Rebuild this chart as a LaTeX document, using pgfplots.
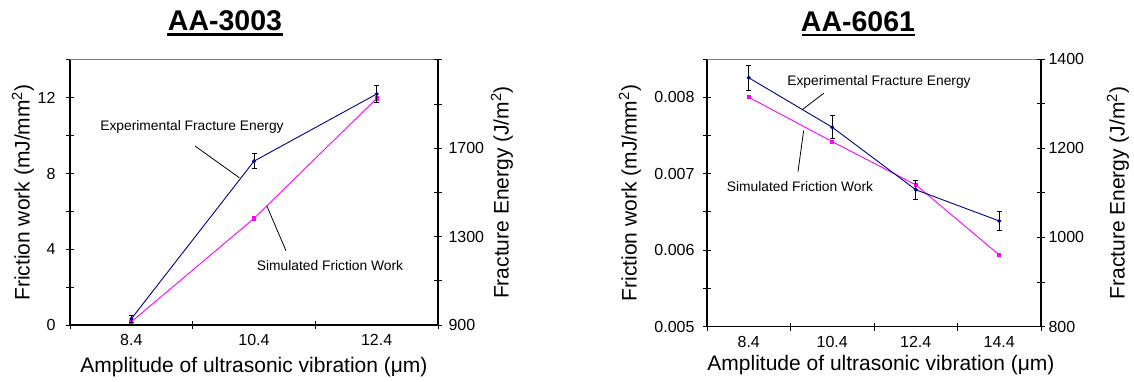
\documentclass[border=0pt]{standalone}
\usepackage{fontspec}
\setmainfont{Liberation Sans}
\usepackage{pgfplots}
\pgfplotsset{compat=1.18}
\definecolor{navyb}{RGB}{0,0,128}
\definecolor{pinkm}{RGB}{255,0,255}
\pgfplotsset{
  common/.style={
    scale only axis,
    anchor=south west,
    /pgf/number format/assume math mode=true,
    /pgf/number format/set thousands separator={},
    tick align=center,
    major tick length=8pt,
    minor tick length=8pt,
    axis line style={line width=1.2pt,black},
    every tick/.style={line width=1.0pt,black},
    every minor tick/.style={line width=1.0pt,black},
    tick label style={font=\fontsize{16}{18}\selectfont},
    clip=false,
  },
}
\begin{document}
\begin{tikzpicture}[x=1pt,y=1pt]
\path[use as bounding box] (0,0) rectangle (1134,381);

% ---------------- Left chart: AA-3003 ----------------
\begin{axis}[common,
  at={(70pt,56pt)}, width=368pt, height=265pt,
  xmin=0, xmax=3, ymin=0, ymax=14,
  axis x line*=bottom, axis y line*=left,
  xtick={0.5,1.5,2.5}, xticklabels={8.4,10.4,12.4},
  major x tick style={draw=none},
  minor xtick={0,1,2,3},
  ytick={0,4,8,12}, minor ytick={2,6,10,14},
  yticklabel style={xshift=-7pt},
  xticklabel style={yshift=-2pt},
]
\draw[gray,line width=1.0pt] (rel axis cs:0,1) -- (rel axis cs:1,1);
\addplot[pinkm, line width=0.9pt, mark=square*, mark size=1.6pt, mark options={solid,fill=pinkm,draw=pinkm}]
  coordinates {(0.5,0.17) (1.5,5.63) (2.5,11.97)};
\end{axis}
\begin{axis}[common,
  at={(70pt,56pt)}, width=368pt, height=265pt,
  xmin=0, xmax=3, ymin=900, ymax=2100,
  axis x line=none, axis y line*=right,
  ytick={900,1300,1700}, minor ytick={1100,1500,1900,2100},
  yticklabel style={xshift=3pt},
]
\addplot[navyb, line width=0.9pt, mark=*, mark size=1.5pt, mark options={solid,fill=navyb,draw=navyb},
  error bars/.cd, y dir=both, y explicit,
  error bar style={black,line width=0.8pt},
  error mark options={rotate=90,mark size=2.5pt,black,line width=0.8pt}]
  coordinates {(0.5,928) +- (0,17) (1.5,1642) +- (0,34) (2.5,1946) +- (0,38)};
\end{axis}

% ---------------- Right chart: AA-6061 ----------------
\begin{axis}[common,
  at={(707pt,54.3pt)}, width=334pt, height=267.7pt,
  xmin=0, xmax=4, ymin=0.005, ymax=0.0085,
  axis x line*=bottom, axis y line*=left,
  xtick={0.5,1.5,2.5,3.5}, xticklabels={8.4,10.4,12.4,14.4},
  major x tick style={draw=none},
  minor xtick={0,1,2,3,4},
  ytick={0.005,0.006,0.007,0.008}, minor ytick={0.0055,0.0065,0.0075,0.0085},
  scaled y ticks=false,
  yticklabel style={xshift=-5pt,/pgf/number format/.cd,fixed,fixed zerofill,precision=3},
  xticklabel style={yshift=-2pt},
]
\draw[gray,line width=1.0pt] (rel axis cs:0,1) -- (rel axis cs:1,1);
\addplot[pinkm, line width=0.9pt, mark=square*, mark size=1.6pt, mark options={solid,fill=pinkm,draw=pinkm}]
  coordinates {(0.5,0.00800) (1.5,0.00742) (2.5,0.006855) (3.5,0.005938)};
\end{axis}
\begin{axis}[common,
  at={(707pt,54.3pt)}, width=334pt, height=267.7pt,
  xmin=0, xmax=4, ymin=800, ymax=1400,
  axis x line=none, axis y line*=right,
  ytick={800,1000,1200,1400}, minor ytick={900,1100,1300},
  yticklabel style={xshift=0pt},
]
\addplot[navyb, line width=0.9pt, mark=*, mark size=1.5pt, mark options={solid,fill=navyb,draw=navyb},
  error bars/.cd, y dir=both, y explicit,
  error bar style={black,line width=0.8pt},
  error mark options={rotate=90,mark size=2.5pt,black,line width=0.8pt}]
  coordinates {(0.5,1358) +- (0,28) (1.5,1247) +- (0,26) (2.5,1107) +- (0,22) (3.5,1037) +- (0,21)};
\end{axis}

% ---------------- Titles ----------------
\node[anchor=base, inner sep=0pt, font=\fontsize{28.5}{32}\selectfont\bfseries] at (225,350) {AA-3003};
\draw[line width=2.8pt] (167,346.5) -- (283,346.5);
\node[anchor=base, inner sep=0pt, font=\fontsize{28.5}{32}\selectfont\bfseries] at (858,349.3) {AA-6061};
\draw[line width=2.8pt] (801.7,346) -- (915,346);

% ---------------- Axis labels ----------------
\node[rotate=90, inner sep=0pt, font=\fontsize{21}{24}\selectfont] at (23,188.5) {Friction work (mJ/mm\textsuperscript{2})};
\node[rotate=90, inner sep=0pt, font=\fontsize{21}{24}\selectfont] at (502,188.5) {Fracture Energy (J/m\textsuperscript{2})};
\node[inner sep=0pt, font=\fontsize{21}{24}\selectfont] at (254,14) {Amplitude of ultrasonic vibration (μm)};

\node[rotate=90, inner sep=0pt, font=\fontsize{21}{24}\selectfont] at (630,188) {Friction work (mJ/mm\textsuperscript{2})};
\node[rotate=90, inner sep=0pt, font=\fontsize{21}{24}\selectfont] at (1118,188) {Fracture Energy (J/m\textsuperscript{2})};
\node[inner sep=0pt, font=\fontsize{21}{24}\selectfont] at (881,16) {Amplitude of ultrasonic vibration (μm)};

% ---------------- Annotations ----------------
\node[inner sep=0pt, font=\fontsize{13.8}{16}\selectfont] at (192,254.3) {Experimental Fracture Energy};
\draw[black,line width=0.8pt] (195,235) -- (239.3,203.3);
\node[inner sep=0pt, font=\fontsize{13.8}{16}\selectfont] at (330,115.3) {Simulated Friction Work};
\draw[black,line width=0.8pt] (266.7,175.3) -- (286,130.3);

\node[inner sep=0pt, font=\fontsize{13.8}{16}\selectfont] at (879,299.3) {Experimental Fracture Energy};
\draw[black,line width=0.8pt] (823.7,287.7) -- (801.8,271);
\node[inner sep=0pt, font=\fontsize{13.8}{16}\selectfont] at (800,194.3) {Simulated Friction Work};
\draw[black,line width=0.8pt] (803.6,250.3) -- (798,209.3);
\end{tikzpicture}
\end{document}
